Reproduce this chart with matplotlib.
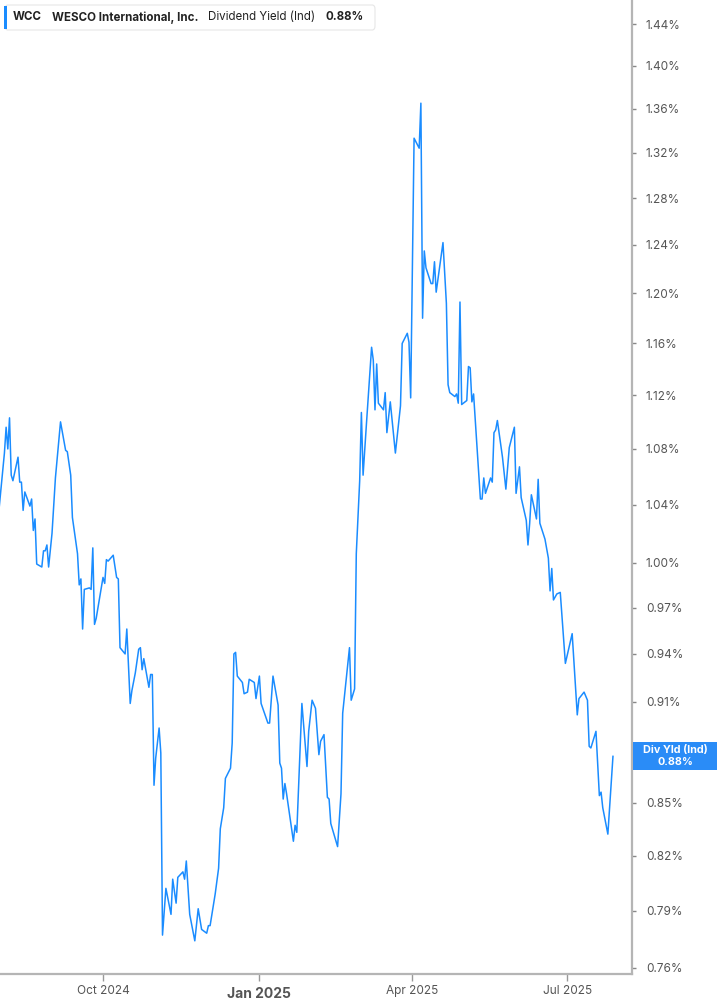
import numpy as np
import pandas as pd
import matplotlib
matplotlib.use('Agg')
import matplotlib.pyplot as plt
import matplotlib.dates as mdates
from matplotlib.patches import Rectangle, FancyBboxPatch
from matplotlib.ticker import FixedLocator, NullLocator

plt.rcParams['font.family'] = ['Inter', 'DejaVu Sans']

# days since 2024-08-01 and dividend yield (%)
days = [0, 3, 4, 5, 6, 7, 8, 11, 12, 13, 14, 15, 18, 19, 20, 21, 22, 25, 26, 27,
        28, 29, 31, 33, 36, 39, 40, 42, 43, 46, 47, 48, 49, 50, 53, 54, 55, 56, 57, 61,
        62, 63, 64, 67, 69, 70, 71, 74, 75, 77, 78, 80, 82, 83, 84, 85, 88, 89, 90, 91,
        92, 94, 95, 96, 98, 101, 102, 104, 105, 108, 109, 110, 112, 115, 117, 119, 122, 123, 124, 127,
        129, 130, 132, 133, 136, 137, 138, 139, 140, 143, 144, 146, 147, 150, 151, 153, 154, 158, 159, 161,
        164, 165, 166, 167, 168, 169, 173, 174, 175, 178, 181, 182, 184, 186, 188, 189, 191, 193, 194, 195,
        199, 201, 202, 206, 207, 209, 210, 212, 213, 214, 216, 219, 220, 221, 222, 223, 226, 227, 228, 230,
        233, 236, 237, 240, 241, 242, 244, 247, 248, 249, 250, 251, 254, 255, 256, 257, 261, 263, 264, 265,
        268, 269, 270, 271, 272, 275, 276, 277, 278, 279, 283, 284, 285, 286, 289, 290, 291, 292, 293, 296,
        298, 300, 303, 304, 306, 307, 310, 311, 312, 313, 316, 317, 318, 321, 323, 324, 325, 326, 328, 330,
        333, 337, 340, 341, 344, 346, 347, 348, 351, 353, 354, 355, 358, 361]

yld = [1.039, 1.077, 1.096, 1.080, 1.103, 1.061, 1.057, 1.074, 1.056, 1.056,
       1.036, 1.049, 1.039, 1.044, 1.022, 1.030, 0.999, 0.997, 1.008, 1.008,
       1.012, 0.997, 1.020, 1.059, 1.100, 1.079, 1.078, 1.061, 1.031, 1.006,
       0.985, 0.989, 0.956, 0.982, 0.983, 0.982, 1.010, 0.959, 0.963, 0.990,
       0.986, 1.002, 1.001, 1.005, 0.990, 0.989, 0.944, 0.940, 0.956, 0.909,
       0.917, 0.928, 0.943, 0.944, 0.930, 0.937, 0.919, 0.927, 0.927, 0.860,
       0.876, 0.894, 0.879, 0.777, 0.802, 0.788, 0.807, 0.794, 0.808, 0.811,
       0.807, 0.817, 0.788, 0.774, 0.791, 0.780, 0.778, 0.782, 0.782, 0.799,
       0.813, 0.835, 0.847, 0.864, 0.870, 0.885, 0.940, 0.941, 0.926, 0.922,
       0.915, 0.916, 0.924, 0.922, 0.912, 0.926, 0.909, 0.897, 0.897, 0.926,
       0.908, 0.873, 0.870, 0.852, 0.861, 0.855, 0.828, 0.837, 0.833, 0.909,
       0.871, 0.892, 0.911, 0.906, 0.878, 0.886, 0.890, 0.853, 0.852, 0.838,
       0.825, 0.855, 0.903, 0.944, 0.911, 0.918, 1.006, 1.057, 1.107, 1.061,
       1.099, 1.157, 1.147, 1.109, 1.144, 1.114, 1.109, 1.122, 1.092, 1.115,
       1.077, 1.112, 1.160, 1.168, 1.161, 1.118, 1.333, 1.324, 1.365, 1.180,
       1.235, 1.221, 1.208, 1.208, 1.226, 1.201, 1.242, 1.192, 1.128, 1.122,
       1.119, 1.121, 1.114, 1.193, 1.113, 1.116, 1.142, 1.141, 1.115, 1.121,
       1.044, 1.044, 1.059, 1.048, 1.059, 1.056, 1.092, 1.094, 1.101, 1.074,
       1.051, 1.081, 1.096, 1.048, 1.067, 1.045, 1.029, 1.012, 1.027, 1.047,
       1.030, 1.058, 1.027, 1.016, 1.003, 0.981, 0.996, 0.975, 0.979, 0.980,
       0.934, 0.953, 0.902, 0.912, 0.916, 0.911, 0.883, 0.882, 0.892, 0.854,
       0.856, 0.847, 0.832, 0.877]

ytick_vals = [0.76, 0.79, 0.82, 0.85, 0.91, 0.94, 0.97, 1.00, 1.04, 1.08,
              1.12, 1.16, 1.20, 1.24, 1.28, 1.32, 1.36, 1.40, 1.44]
xtick_dates = ['2024-10-01', '2025-01-01', '2025-04-01', '2025-07-01']
xtick_labels = ['Oct 2024', 'Jan 2025', 'Apr 2025', 'Jul 2025']

W, H = 717, 1005
start = pd.Timestamp('2024-08-01')
dates = start + pd.to_timedelta(days, unit='D')

fig = plt.figure(figsize=(W / 100, H / 100), dpi=100)
ax = fig.add_axes([0, 31 / H, 632 / W, 974 / H])

blue = '#1a8cff'
ax.plot(dates, yld, color=blue, lw=1.1)

ax.set_yscale('log')
ax.set_ylim(0.7568, 1.4638)
ax.set_xlim(start + pd.Timedelta(days=0.4), start + pd.Timedelta(days=372.2))

for s in ['left', 'top']:
    ax.spines[s].set_visible(False)
for s in ['right', 'bottom']:
    ax.spines[s].set_color('#b5b5b5')
    ax.spines[s].set_linewidth(1.6)

ax.yaxis.tick_right()
ax.yaxis.set_major_locator(FixedLocator(ytick_vals))
ax.yaxis.set_minor_locator(NullLocator())
ax.set_yticklabels(['%.2f%%' % v for v in ytick_vals])
ax.tick_params(axis='y', which='major', direction='out', length=3, width=1,
               color='#888888', labelcolor='#555555', labelsize=8.5, pad=7)

ax.set_xticks(mdates.date2num(pd.to_datetime(xtick_dates)))
ax.set_xticklabels(xtick_labels)
ax.tick_params(axis='x', direction='out', length=5, width=1,
               color='#999999', labelcolor='#555555', labelsize=8.5, pad=3)
for lbl in ax.get_xticklabels():
    if lbl.get_text() == 'Jan 2025':
        lbl.set_fontweight('bold')
        lbl.set_fontsize(10)
        lbl.set_y(-0.002)

def fx(x):
    return x / W

def fy(y):
    return 1 - y / H

# header box
fig.add_artist(FancyBboxPatch((fx(5), fy(30)), fx(370), 25 / H,
                              boxstyle='round,pad=0,rounding_size=0.004',
                              transform=fig.transFigure, facecolor='white',
                              edgecolor='#e6e6e6', lw=0.8))
fig.add_artist(Rectangle((fx(4), fy(29)), fx(3), 23 / H, transform=fig.transFigure,
                         facecolor=blue, edgecolor='none'))
hy = fy(17.5)
fig.text(fx(13), hy, 'WCC', fontsize=8.3, fontweight='bold', color='#222222', va='center')
fig.text(fx(52), hy, 'WESCO International, Inc.', fontsize=8.3, fontweight='bold',
         color='#222222', va='center')
fig.text(fx(208), hy, 'Dividend Yield (Ind)', fontsize=8.3, color='#222222', va='center')
fig.text(fx(325), hy, '0.88%', fontsize=8.3, fontweight='bold', color='#222222', va='center')

# last value badge
fig.add_artist(Rectangle((fx(633), fy(770)), fx(84), 28 / H, transform=fig.transFigure,
                         facecolor='#2a8cf7', edgecolor='none'))
fig.text(fx(675), fy(750), 'Div Yld (Ind)', fontsize=7.8, fontweight='bold', color='white',
         ha='center', va='center')
fig.text(fx(675), fy(762), '0.88%', fontsize=7.8, fontweight='bold', color='white',
         ha='center', va='center')

fig.savefig('out.png', dpi=100)
